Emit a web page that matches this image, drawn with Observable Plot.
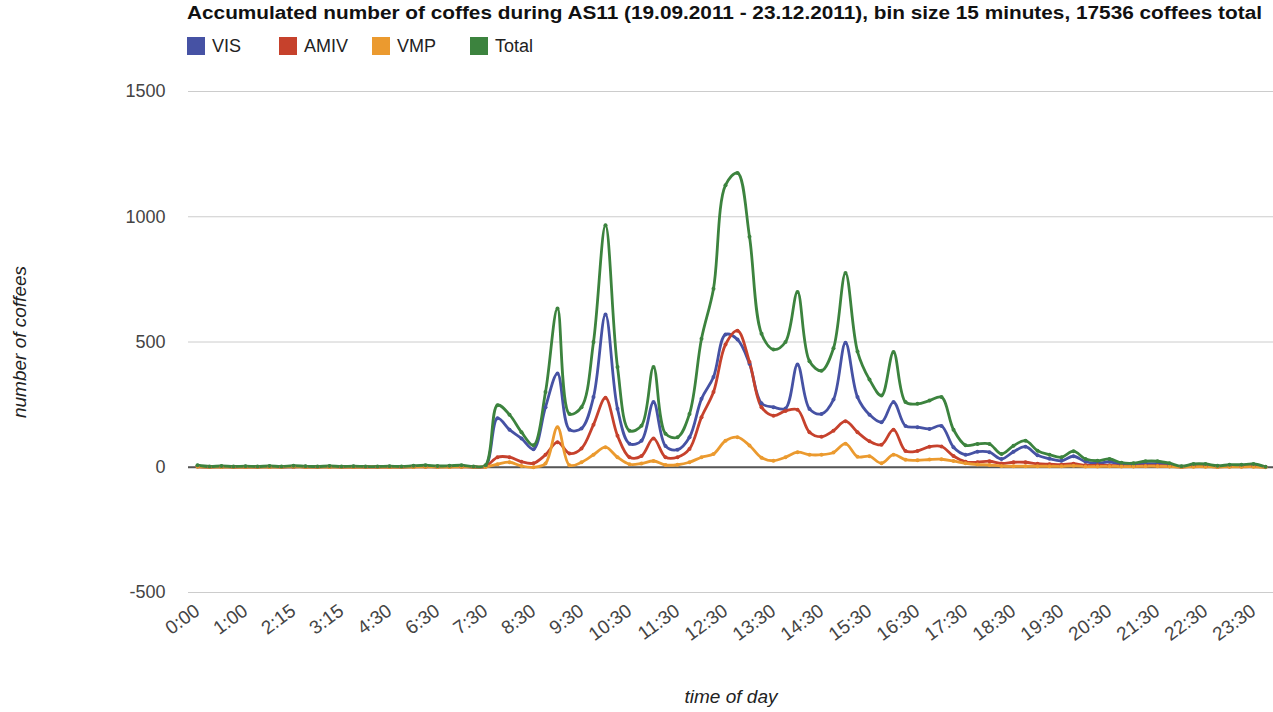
<!DOCTYPE html>
<html>
<head>
<meta charset="utf-8">
<script src="https://cdn.jsdelivr.net/npm/d3@7"></script>
<script src="https://cdn.jsdelivr.net/npm/@observablehq/plot@0.6"></script>
<style>
  html, body { margin: 0; padding: 0; background: #fff; }
  body { width: 1273px; height: 712px; overflow: hidden; font-family: "Liberation Sans", Arial, sans-serif; }
  #head { position: relative; height: 70px; }
  #title { position: absolute; left: 187px; top: 3px; font-weight: bold; font-size: 18px; color: #111; white-space: nowrap; transform-origin: 0 0; }
  .lg { position: absolute; top: 36px; height: 20px; }
  .sw { position: absolute; top: 1px; width: 18px; height: 18px; }
  .lt { position: absolute; top: 0px; font-size: 18px; color: #222; white-space: nowrap; line-height: 20px; }
  g[aria-label="y-axis label"] text, g[aria-label="x-axis label"] text { font-style: italic; font-size: 19px; fill: #222; }
</style>
</head>
<body>
<div id="head">
  <div id="title">Accumulated number of coffes during AS11 (19.09.2011 - 23.12.2011), bin size 15 minutes, 17536 coffees total</div>
  <div id="legend"></div>
</div>
<div id="chart"></div>
<script>
// time bins (15 minutes); bins with no data are absent from the source table
const times = ["0:00","0:15","0:30","0:45","1:00","1:15","1:30","2:00","2:15","2:30","2:45","3:00","3:15","3:30","3:45","4:15","4:30","4:45","5:15","6:00",
  "6:30","6:45","7:00","7:15","7:30","7:45","8:00","8:15","8:30","8:45","9:00","9:15","9:30","9:45","10:00","10:15","10:30","10:45","11:00","11:15",
  "11:30","11:45","12:00","12:15","12:30","12:45","13:00","13:15","13:30","13:45","14:00","14:15","14:30","14:45","15:00","15:15","15:30","15:45","16:00","16:15",
  "16:30","16:45","17:00","17:15","17:30","17:45","18:00","18:15","18:30","18:45","19:00","19:15","19:30","19:45","20:00","20:15","20:30","20:45","21:00","21:15",
  "21:30","21:45","22:00","22:15","22:30","22:45","23:00","23:15","23:30","23:45"];

const tickLabels = ["0:00","1:00","2:15","3:15","4:30","6:30","7:30","8:30","9:30","10:30","11:30","12:30","13:30","14:30","15:30","16:30","17:30","18:30","19:30","20:30","21:30","22:30","23:30"];

const vis = [3,1,2,1,2,1,2,1,2,2,1,2,1,2,1,1,2,1,3,4,2,3,4,1,
  4,196,150,115,72,240,374,150,155,280,610,234,94,106,260,85,
  70,120,273,360,530,510,413,255,240,235,410,233,213,270,497,280,
  210,180,260,165,160,153,165,80,50,62,60,33,62,82,48,34,26,44,22,15,22,10,9,14,14,9,2,7,7,3,5,5,7,1];
const amiv = [3,1,2,1,1,1,2,1,2,1,1,2,1,1,1,1,1,1,2,2,2,2,2,1,
  3,40,40,22,16,50,100,55,75,170,277,126,40,45,115,40,
  40,73,200,300,490,545,420,240,206,225,230,140,122,146,184,140,
  104,90,150,65,65,82,83,45,22,20,24,15,20,20,14,12,10,14,8,8,7,5,4,6,6,4,1,4,4,2,3,3,4,1];
const vmp = [2,1,1,1,1,1,1,1,2,1,1,1,1,1,1,1,1,1,1,2,1,1,2,1,
  1,12,20,5,0,15,160,8,20,50,80,40,12,15,25,9,
  10,20,40,53,106,120,87,38,26,40,60,50,50,59,94,42,
  44,16,50,30,28,31,32,25,16,11,9,5,4,4,4,4,4,6,3,3,4,3,3,4,4,3,1,2,2,1,2,2,2,0];
const total = [8,3,5,3,4,3,5,3,6,4,3,5,3,4,3,3,4,3,6,8,5,6,8,3,
  8,248,210,140,88,300,634,213,240,500,966,400,146,166,400,134,
  120,213,513,713,1126,1175,920,533,470,500,700,423,385,475,775,462,
  350,286,460,260,253,266,280,150,88,93,93,53,86,106,66,50,40,64,33,26,33,18,16,24,24,16,4,13,13,6,10,10,13,2];

const seriesNames = ["VIS","AMIV","VMP","Total"];
const seriesColors = ["#4652a4","#c6412c","#eb9a2f","#3c833e"];
const seriesValues = [vis, amiv, vmp, total];
const yTicks = [-500, 0, 500, 1000, 1500];

const rows = [];
seriesNames.forEach((name, s) => {
  times.forEach((t, i) => rows.push({series: name, time: t, value: seriesValues[s][i]}));
});

// legend (HTML, above the SVG)
const legendX = [187, 279, 372, 470];
const legend = document.getElementById("legend");
seriesNames.forEach((name, s) => {
  const item = document.createElement("div");
  item.className = "lg";
  item.style.left = legendX[s] + "px";
  item.innerHTML = `<div class="sw" style="left:0;background:${seriesColors[s]}"></div><div class="lt" style="left:25px">${name}</div>`;
  legend.appendChild(item);
});

// fit title to its width in the reference
const title = document.getElementById("title");
const tw = title.getBoundingClientRect().width;
title.style.transform = `scaleX(${1075 / tw})`;

const chart = Plot.plot({
  width: 1273,
  height: 642,
  marginLeft: 188,
  marginRight: 0,
  marginTop: 21,
  marginBottom: 120,
  style: {fontFamily: "'Liberation Sans', Arial, sans-serif", fontSize: "18px", color: "#444", background: "#fff"},
  x: {type: "point", domain: times, padding: 0.5},
  y: {domain: [-500, 1500]},
  color: {domain: seriesNames, range: seriesColors},
  marks: [
    Plot.gridY(yTicks, {stroke: "#cccccc", strokeOpacity: 1}),
    Plot.ruleY([0], {stroke: "#555", strokeWidth: 2}),
    Plot.axisY(yTicks, {tickSize: 0, tickPadding: 23, tickFormat: d => String(d).replace("\u2212", "-"), fill: "#444", fontSize: 18,
      label: "number of coffees", labelAnchor: "center", labelOffset: 176, labelArrow: "none"}),
    Plot.axisX(tickLabels, {tickSize: 0, tickRotate: -36, tickPadding: 16, fill: "#444", fontSize: 19,
      label: "time of day", labelAnchor: "center", labelOffset: 110, labelArrow: "none"}),
    Plot.lineY(rows, {x: "time", y: "value", z: "series", stroke: "series", strokeWidth: 2.8, curve: "catmull-rom"}),
    Plot.dot(rows, {x: "time", y: "value", fill: "series", r: 2, stroke: null})
  ]
});
document.getElementById("chart").appendChild(chart);
</script>
</body>
</html>
